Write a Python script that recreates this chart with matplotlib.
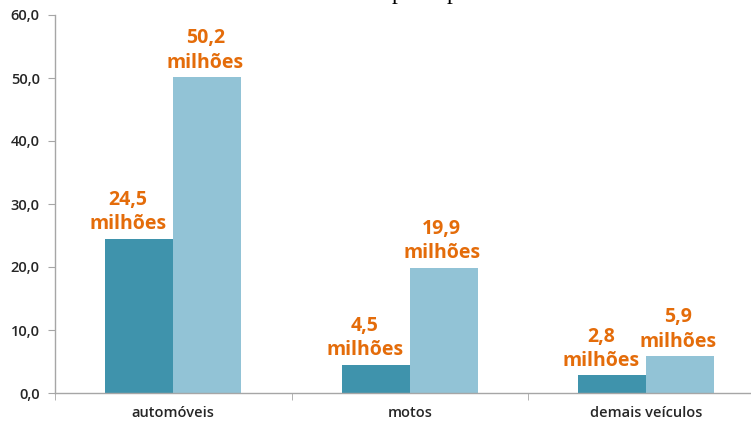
import matplotlib.pyplot as plt
import numpy as np

# ── Data ──────────────────────────────────────────────────────────────────────

categories   = ["automóveis", "motos", "demais veículos"]
frota_antes  = [24.5, 4.5, 2.8]
frota_depois = [50.2, 19.9, 5.9]
y_ticks      = [0, 10, 20, 30, 40, 50, 60]

DARK   = "#3F93AC"
LIGHT  = "#92C3D6"
ORANGE = "#E46C0A"
GRID   = "#A6A6A6"
TEXT   = "#262626"

W, H = 751, 423


def fmt(v):
    return f"{v:.1f}".replace(".", ",")


# ── Plot ──────────────────────────────────────────────────────────────────────

plt.rcParams["font.family"] = ["Open Sans", "DejaVu Sans"]

fig = plt.figure(figsize=(W / 100, H / 100), dpi=100)
ax = fig.add_axes([55 / W, 30 / H, (W - 55) / W, (393 - 15) / H])

x = np.arange(len(categories))
bw = 0.288

bars_a = ax.bar(x - bw / 2, frota_antes, bw, color=DARK, zorder=2)
bars_d = ax.bar(x + bw / 2, frota_depois, bw, color=LIGHT, zorder=2)

# value labels; the dark-bar ones sit a little to the left
for bars, vals, dx in ((bars_a, frota_antes, -8), (bars_d, frota_depois, -1.5)):
    for b, v in zip(bars, vals):
        ax.annotate(f"{fmt(v)}\nmilhões",
                    (b.get_x() + b.get_width() / 2, v),
                    xytext=(dx, 3), textcoords="offset points",
                    ha="center", va="bottom", color=ORANGE,
                    fontsize=14, fontweight="bold", linespacing=1.3)

ax.set_xlim(-0.5, -0.5 + (W - 55) / 236.5)
ax.set_ylim(0, 60)

ax.set_yticks(y_ticks)
ax.set_yticklabels([fmt(t) for t in y_ticks], fontsize=10.5,
                   fontweight="semibold", color=TEXT)
ax.set_xticks(x)
ax.set_xticklabels(categories, fontsize=10.5, fontweight="semibold", color=TEXT)
ax.set_xticks([-0.5, 0.5, 1.5], minor=True)

ax.tick_params(axis="y", length=5, color=GRID, pad=6)
ax.tick_params(axis="x", which="major", length=0, pad=9)
ax.tick_params(axis="x", which="minor", length=5, color=GRID)

for side in ("top", "right"):
    ax.spines[side].set_visible(False)
for side in ("left", "bottom"):
    ax.spines[side].set_color(GRID)
    ax.spines[side].set_linewidth(1.0)

# bottom of the clipped heading line above the chart
for px in (392, 447):
    fig.text(px / W, 1.0 + 1 / H, "p", family=["Liberation Serif", "DejaVu Serif"],
             fontsize=17, color="black", ha="left", va="baseline")

fig.savefig("out.png", dpi=100)
